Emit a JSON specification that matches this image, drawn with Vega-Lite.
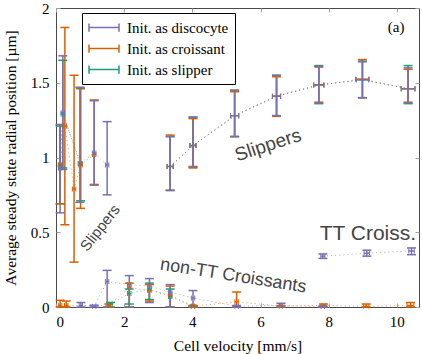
{
  "$schema": "https://vega.github.io/schema/vega-lite/v6.json",
  "width": 363,
  "height": 299,
  "autosize": {"type": "none"},
  "padding": {"left": 56, "top": 8, "right": 3, "bottom": 47},
  "config": {
    "view": {"stroke": "#4a4a4a", "strokeWidth": 1},
    "font": "Liberation Serif",
    "axis": {
      "domain": false, "grid": false, "tickColor": "#a0a0a0", "tickSize": -4, "tickWidth": 1,
      "labelFont": "Liberation Serif", "labelFontSize": 15, "labelColor": "black", "labelPadding": 11,
      "titleFont": "Liberation Serif", "titleFontSize": 15.5, "titleFontWeight": "normal", "titleColor": "black"
    }
  },
  "data": {"values": [
    {"s": "Init. as slipper", "g": "S1", "v": 0.12, "y": 0.95, "lo": 0.69, "hi": 1.21, "xe": 0.05},
    {"s": "Init. as slipper", "g": "S1", "v": 0.2, "y": 1.29, "lo": 0.93, "hi": 1.65, "xe": 0.05},
    {"s": "Init. as slipper", "g": "S1", "v": 0.72, "y": 0.96, "lo": 0.71, "hi": 1.46, "xe": 0.05},
    {"s": "Init. as slipper", "g": "S2", "v": 3.35, "y": 0.94, "lo": 0.78, "hi": 1.14, "xe": 0.09},
    {"s": "Init. as slipper", "g": "S2", "v": 4.02, "y": 1.08, "lo": 0.935, "hi": 1.27, "xe": 0.09},
    {"s": "Init. as slipper", "g": "S2", "v": 5.24, "y": 1.28, "lo": 1.14, "hi": 1.45, "xe": 0.12},
    {"s": "Init. as slipper", "g": "S2", "v": 6.47, "y": 1.41, "lo": 1.28, "hi": 1.55, "xe": 0.12},
    {"s": "Init. as slipper", "g": "S2", "v": 7.71, "y": 1.485, "lo": 1.36, "hi": 1.615, "xe": 0.15},
    {"s": "Init. as slipper", "g": "S2", "v": 8.99, "y": 1.52, "lo": 1.4, "hi": 1.645, "xe": 0.18},
    {"s": "Init. as slipper", "g": "S2", "v": 10.33, "y": 1.46, "lo": 1.36, "hi": 1.615, "xe": 0.2},
    {"s": "Init. as slipper", "g": "L", "v": 1.6, "y": 0.02, "lo": 0, "hi": 0.03, "xe": 0.05},
    {"s": "Init. as slipper", "g": "L", "v": 2.15, "y": 0.09, "lo": 0.02, "hi": 0.12, "xe": 0.05},
    {"s": "Init. as slipper", "g": "L", "v": 2.74, "y": 0.12, "lo": 0.05, "hi": 0.16, "xe": 0.05},
    {"s": "Init. as slipper", "g": "L", "v": 3.35, "y": 0.07, "lo": 0, "hi": 0.12, "xe": 0.05},
    {"s": "Init. as slipper", "g": "L", "v": 4.02, "y": 0.005, "lo": 0, "hi": 0.01, "xe": 0.05},
    {"s": "Init. as croissant", "g": "S1", "v": 0.12, "y": 0.95, "lo": 0.69, "hi": 1.22, "xe": 0.05},
    {"s": "Init. as croissant", "g": "S1", "v": 0.26, "y": 1.21, "lo": 0.55, "hi": 1.87, "xe": 0.05},
    {"s": "Init. as croissant", "g": "S1", "v": 0.53, "y": 0.79, "lo": 0.3, "hi": 1.55, "xe": 0.05},
    {"s": "Init. as croissant", "g": "S1", "v": 0.72, "y": 0.95, "lo": 0.66, "hi": 1.465, "xe": 0.05},
    {"s": "Init. as croissant", "g": "S1", "v": 1.12, "y": 1.02, "lo": 0.815, "hi": 1.385, "xe": 0.05},
    {"s": "Init. as croissant", "g": "S2", "v": 3.35, "y": 0.94, "lo": 0.78, "hi": 1.15, "xe": 0.09},
    {"s": "Init. as croissant", "g": "S2", "v": 4.02, "y": 1.08, "lo": 0.93, "hi": 1.26, "xe": 0.09},
    {"s": "Init. as croissant", "g": "S2", "v": 5.24, "y": 1.28, "lo": 1.14, "hi": 1.44, "xe": 0.12},
    {"s": "Init. as croissant", "g": "S2", "v": 6.47, "y": 1.41, "lo": 1.275, "hi": 1.54, "xe": 0.12},
    {"s": "Init. as croissant", "g": "S2", "v": 7.71, "y": 1.485, "lo": 1.37, "hi": 1.605, "xe": 0.15},
    {"s": "Init. as croissant", "g": "S2", "v": 8.99, "y": 1.525, "lo": 1.4, "hi": 1.655, "xe": 0.2},
    {"s": "Init. as croissant", "g": "S2", "v": 10.33, "y": 1.46, "lo": 1.37, "hi": 1.59, "xe": 0.2},
    {"s": "Init. as croissant", "g": "L", "v": 0.12, "y": 0.01, "lo": 0, "hi": 0.045, "xe": 0.05},
    {"s": "Init. as croissant", "g": "L", "v": 0.3, "y": 0.01, "lo": 0, "hi": 0.04, "xe": 0.05},
    {"s": "Init. as croissant", "g": "L", "v": 1.55, "y": 0.01, "lo": 0, "hi": 0.02, "xe": 0.05},
    {"s": "Init. as croissant", "g": "L", "v": 2.15, "y": 0.13, "lo": 0, "hi": 0.16, "xe": 0.05},
    {"s": "Init. as croissant", "g": "L", "v": 2.74, "y": 0.11, "lo": 0.04, "hi": 0.15, "xe": 0.05},
    {"s": "Init. as croissant", "g": "L", "v": 3.35, "y": 0.08, "lo": 0, "hi": 0.14, "xe": 0.05},
    {"s": "Init. as croissant", "g": "L", "v": 4.02, "y": 0.005, "lo": 0, "hi": 0.01, "xe": 0.05},
    {"s": "Init. as croissant", "g": "L", "v": 5.3, "y": 0.035, "lo": 0, "hi": 0.1, "xe": 0.05},
    {"s": "Init. as croissant", "g": "L", "v": 6.6, "y": 0.005, "lo": 0, "hi": 0.01, "xe": 0.05},
    {"s": "Init. as croissant", "g": "L", "v": 7.85, "y": 0.01, "lo": 0, "hi": 0.02, "xe": 0.05},
    {"s": "Init. as croissant", "g": "L", "v": 9.1, "y": 0.005, "lo": 0, "hi": 0.02, "xe": 0.08},
    {"s": "Init. as croissant", "g": "L", "v": 10.4, "y": 0.01, "lo": 0, "hi": 0.03, "xe": 0.1},
    {"s": "Init. as discocyte", "g": "S1", "v": 0.12, "y": 0.93, "lo": 0.63, "hi": 1.22, "xe": 0.05},
    {"s": "Init. as discocyte", "g": "S1", "v": 0.2, "y": 1.3, "lo": 0.92, "hi": 1.68, "xe": 0.05},
    {"s": "Init. as discocyte", "g": "S1", "v": 0.7, "y": 0.96, "lo": 0.7, "hi": 1.47, "xe": 0.05},
    {"s": "Init. as discocyte", "g": "S1", "v": 1.12, "y": 1.03, "lo": 0.82, "hi": 1.38, "xe": 0.05},
    {"s": "Init. as discocyte", "g": "S1", "v": 1.5, "y": 0.95, "lo": 0.75, "hi": 1.24, "xe": 0.05},
    {"s": "Init. as discocyte", "g": "S2", "v": 3.35, "y": 0.94, "lo": 0.78, "hi": 1.14, "xe": 0.09},
    {"s": "Init. as discocyte", "g": "S2", "v": 4.02, "y": 1.08, "lo": 0.94, "hi": 1.27, "xe": 0.09},
    {"s": "Init. as discocyte", "g": "S2", "v": 5.24, "y": 1.28, "lo": 1.14, "hi": 1.45, "xe": 0.12},
    {"s": "Init. as discocyte", "g": "S2", "v": 6.47, "y": 1.41, "lo": 1.28, "hi": 1.55, "xe": 0.12},
    {"s": "Init. as discocyte", "g": "S2", "v": 7.71, "y": 1.485, "lo": 1.365, "hi": 1.61, "xe": 0.15},
    {"s": "Init. as discocyte", "g": "S2", "v": 8.99, "y": 1.52, "lo": 1.4, "hi": 1.64, "xe": 0.18},
    {"s": "Init. as discocyte", "g": "S2", "v": 10.33, "y": 1.46, "lo": 1.365, "hi": 1.6, "xe": 0.2},
    {"s": "Init. as discocyte", "g": "L", "v": 0.73, "y": 0.01, "lo": 0, "hi": 0.03, "xe": 0.05},
    {"s": "Init. as discocyte", "g": "L", "v": 1.12, "y": 0.005, "lo": 0, "hi": 0.012, "xe": 0.05},
    {"s": "Init. as discocyte", "g": "L", "v": 1.5, "y": 0.17, "lo": 0, "hi": 0.245, "xe": 0.05},
    {"s": "Init. as discocyte", "g": "L", "v": 2.15, "y": 0.15, "lo": 0, "hi": 0.21, "xe": 0.05},
    {"s": "Init. as discocyte", "g": "L", "v": 2.74, "y": 0.14, "lo": 0.03, "hi": 0.19, "xe": 0.05},
    {"s": "Init. as discocyte", "g": "L", "v": 3.35, "y": 0.1, "lo": 0, "hi": 0.15, "xe": 0.05},
    {"s": "Init. as discocyte", "g": "L", "v": 4.02, "y": 0.06, "lo": 0, "hi": 0.11, "xe": 0.05},
    {"s": "Init. as discocyte", "g": "L", "v": 5.3, "y": 0.005, "lo": 0, "hi": 0.01, "xe": 0.05},
    {"s": "Init. as discocyte", "g": "L", "v": 6.6, "y": 0.01, "lo": 0, "hi": 0.025, "xe": 0.05},
    {"s": "Init. as discocyte", "g": "L", "v": 7.83, "y": 0.003, "lo": 0, "hi": 0.008, "xe": 0.05},
    {"s": "Init. as discocyte", "g": "T", "v": 7.83, "y": 0.34, "lo": 0.325, "hi": 0.355, "xe": 0.06},
    {"s": "Init. as discocyte", "g": "T", "v": 9.12, "y": 0.36, "lo": 0.34, "hi": 0.38, "xe": 0.08},
    {"s": "Init. as discocyte", "g": "T", "v": 10.43, "y": 0.375, "lo": 0.35, "hi": 0.395, "xe": 0.08}
  ]},
  "resolve": {"axis": {"x": "independent", "y": "independent"}},
  "layer": [
    {
      "mark": {"type": "line", "strokeDash": [1.1, 3], "strokeWidth": 1, "opacity": 0.6},
      "encoding": {
        "x": {"field": "v", "type": "quantitative", "scale": {"domain": [0, 10.65], "nice": false, "zero": false},
              "axis": {"values": [0, 2, 4, 6, 8, 10], "title": "Cell velocity [mm/s]", "titlePadding": 9}},
        "y": {"field": "y", "type": "quantitative", "scale": {"domain": [0, 2], "nice": false},
              "axis": {"values": [0, 0.5, 1, 1.5, 2], "format": "~g", "title": "Average steady state radial position [µm]", "titlePadding": 12}},
        "color": {"field": "s", "type": "nominal",
                  "scale": {"domain": ["Init. as discocyte", "Init. as croissant", "Init. as slipper"], "range": ["#7570b3", "#d95f02", "#1b9e77"]},
                  "legend": {"title": null, "orient": "none", "legendX": 26, "legendY": 5,
                             "symbolType": "M-1,-0.55V0.55M-1,0H3M3,-0.55V0.55", "symbolSize": 225, "symbolStrokeWidth": 1.5,
                             "symbolDash": [1, 0], "symbolOpacity": 1, "symbolFillColor": "transparent",
                             "labelFont": "Liberation Serif", "labelFontSize": 15, "labelColor": "black", "labelOffset": 22, "labelLimit": 200,
                             "strokeColor": "black", "fillColor": "white", "padding": 6, "rowPadding": 4}},
        "detail": {"field": "g"}
      }
    },
    {
      "mark": {"type": "rule", "strokeWidth": 1.5, "opacity": 1},
      "encoding": {
        "x": {"field": "v", "type": "quantitative", "axis": null},
        "y": {"field": "lo", "type": "quantitative", "axis": null},
        "y2": {"field": "hi"},
        "color": {"field": "s", "type": "nominal"}
      }
    },
    {
      "mark": {"type": "tick", "orient": "horizontal", "size": 9, "thickness": 1.5, "opacity": 1},
      "encoding": {
        "x": {"field": "v", "type": "quantitative", "axis": null},
        "y": {"field": "hi", "type": "quantitative", "axis": null},
        "color": {"field": "s", "type": "nominal"}
      }
    },
    {
      "mark": {"type": "tick", "orient": "horizontal", "size": 9, "thickness": 1.5, "opacity": 1},
      "encoding": {
        "x": {"field": "v", "type": "quantitative", "axis": null},
        "y": {"field": "lo", "type": "quantitative", "axis": null},
        "color": {"field": "s", "type": "nominal"}
      }
    },
    {
      "mark": {"type": "errorbar", "ticks": {"size": 5, "thickness": 1, "opacity": 1}, "rule": {"opacity": 1}, "thickness": 1.3},
      "encoding": {
        "x": {"field": "v", "type": "quantitative", "axis": null},
        "xError": {"field": "xe"},
        "y": {"field": "y", "type": "quantitative", "axis": null},
        "color": {"field": "s", "type": "nominal"}
      }
    },
    {
      "data": {"values": [{"v": 6.22, "y": 1.083, "t": "Slippers"}]},
      "mark": {"type": "text", "font": "Liberation Sans", "fontSize": 19, "angle": 342, "color": "#444444"},
      "encoding": {"x": {"field": "v", "type": "quantitative", "axis": null}, "y": {"field": "y", "type": "quantitative", "axis": null}, "text": {"field": "t"}}
    },
    {
      "data": {"values": [{"v": 1.29, "y": 0.53, "t": "Slippers"}]},
      "mark": {"type": "text", "font": "Liberation Sans", "fontSize": 15, "angle": 308, "color": "#444444"},
      "encoding": {"x": {"field": "v", "type": "quantitative", "axis": null}, "y": {"field": "y", "type": "quantitative", "axis": null}, "text": {"field": "t"}}
    },
    {
      "data": {"values": [{"v": 5.2, "y": 0.207, "t": "non-TT Croissants"}]},
      "mark": {"type": "text", "font": "Liberation Sans", "fontSize": 18, "angle": 9, "color": "#444444"},
      "encoding": {"x": {"field": "v", "type": "quantitative", "axis": null}, "y": {"field": "y", "type": "quantitative", "axis": null}, "text": {"field": "t"}}
    },
    {
      "data": {"values": [{"v": 9.15, "y": 0.485, "t": "TT Croiss."}]},
      "mark": {"type": "text", "font": "Liberation Sans", "fontSize": 21, "color": "#444444"},
      "encoding": {"x": {"field": "v", "type": "quantitative", "axis": null}, "y": {"field": "y", "type": "quantitative", "axis": null}, "text": {"field": "t"}}
    },
    {
      "data": {"values": [{"v": 9.98, "y": 1.873, "t": "(a)"}]},
      "mark": {"type": "text", "font": "Liberation Serif", "fontSize": 15, "color": "black"},
      "encoding": {
        "x": {"field": "v", "type": "quantitative", "axis": {"orient": "top", "labels": false, "title": null, "values": [0, 2, 4, 6, 8, 10]}},
        "y": {"field": "y", "type": "quantitative", "axis": {"orient": "right", "labels": false, "title": null, "values": [0, 0.5, 1, 1.5, 2]}},
        "text": {"field": "t"}
      }
    }
  ]
}
